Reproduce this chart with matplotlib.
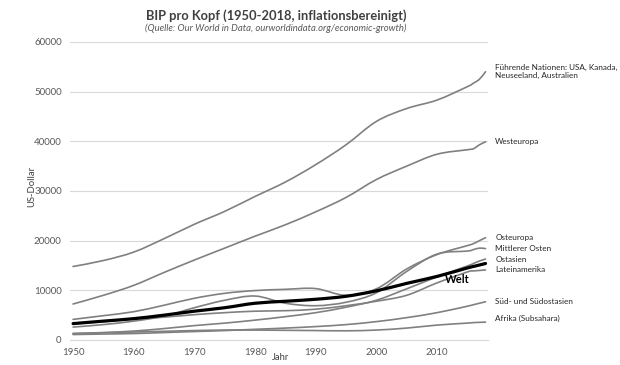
import matplotlib
matplotlib.use('Agg')
import matplotlib.pyplot as plt
from matplotlib.path import Path
from matplotlib.patches import PathPatch

plt.rcParams['font.family'] = ['Lato', 'DejaVu Sans']

# Jahre und Werte (BIP pro Kopf, US-Dollar, inflationsbereinigt)
jahre = [1950, 1955, 1960, 1965, 1970, 1975, 1980, 1985, 1990, 1995,
         2000, 2005, 2010, 2015, 2016, 2017, 2018]

fuehrend = [14800, 16000, 17700, 20400, 23300, 25900, 28900, 31800, 35300, 39300,
            44000, 46600, 48300, 51000, 51700, 52500, 54000]
westeuropa = [7250, 9000, 11000, 13600, 16100, 18500, 20900, 23200, 25800, 28700,
              32300, 35000, 37400, 38300, 38500, 39300, 39900]
osteuropa = [4150, 4900, 5700, 7000, 8400, 9400, 9950, 10200, 10350, 9000,
             10300, 14300, 17200, 19000, 19400, 20000, 20600]
nahost = [2600, 3100, 3800, 4800, 6500, 8000, 8850, 7400, 6900, 7600,
          9500, 13800, 17300, 17900, 18200, 18500, 18400]
ostasien = [1300, 1500, 1800, 2300, 2900, 3400, 4000, 4700, 5500, 6600,
            8000, 10300, 12700, 14900, 15400, 15900, 16300]
lateinamerika = [3300, 3700, 4200, 4600, 5100, 5500, 5800, 5900, 6200, 6900,
                 7800, 9000, 11500, 13700, 13900, 14000, 14100]
suedasien = [1100, 1200, 1300, 1500, 1700, 1900, 2150, 2400, 2700, 3100,
             3700, 4500, 5500, 6800, 7100, 7400, 7700]
afrika = [1300, 1450, 1600, 1750, 1900, 2000, 2000, 1950, 1900, 1850,
          2000, 2400, 3000, 3400, 3500, 3550, 3600]
welt = [3300, 3800, 4300, 5000, 5800, 6500, 7400, 7800, 8200, 8800,
        9900, 11400, 12800, 14500, 14800, 15100, 15400]

regionen = [
    ('Führende Nationen: USA, Kanada,\nNeuseeland, Australien', fuehrend),
    ('Westeuropa', westeuropa),
    ('Osteuropa', osteuropa),
    ('Mittlerer Osten', nahost),
    ('Ostasien', ostasien),
    ('Lateinamerika', lateinamerika),
    ('Süd- und Südostasien', suedasien),
    ('Afrika (Subsahara)', afrika),
]
# vertikale Verschiebung der Beschriftungen (Punkte)
label_dy = [0, 0, 0, 0, 0, 0, 0, 3]


def glatte_linie(ax, x, y, **kw):
    # geglättete Linie wie in Excel (Catmull-Rom als Bezier-Kurve)
    pts = list(zip(x, y))
    n = len(pts)
    verts = [pts[0]]
    codes = [Path.MOVETO]
    for i in range(n - 1):
        p0 = pts[max(i - 1, 0)]
        p1 = pts[i]
        p2 = pts[i + 1]
        p3 = pts[min(i + 2, n - 1)]
        c1 = (p1[0] + (p2[0] - p0[0]) / 6, p1[1] + (p2[1] - p0[1]) / 6)
        c2 = (p2[0] - (p3[0] - p1[0]) / 6, p2[1] - (p3[1] - p1[1]) / 6)
        verts += [c1, c2, p2]
        codes += [Path.CURVE4] * 3
    ax.add_patch(PathPatch(Path(verts, codes), fill=False, **kw))


fig = plt.figure(figsize=(6.2, 3.65), dpi=100)
ax = fig.add_axes([0.113, 0.0685, 0.674, 0.8165])

grau = '#808080'
for (name, werte), dy in zip(regionen, label_dy):
    glatte_linie(ax, jahre, werte, edgecolor=grau, linewidth=1.2, capstyle='round')
    ax.annotate(name, xy=(jahre[-1], werte[-1]), xytext=(7, dy),
                textcoords='offset points', va='center', ha='left',
                fontsize=5.9, color='#262626', annotation_clip=False)

glatte_linie(ax, jahre, welt, edgecolor='black', linewidth=2.3, capstyle='round')
ax.text(2013.3, 12100, 'Welt', fontsize=8, fontweight='bold',
        ha='center', va='center', color='black')

ax.set_xlim(1949.5, 2018.4)
ax.set_ylim(0, 60000)
ax.set_xticks(range(1950, 2011, 10))
ax.set_yticks(range(0, 60001, 10000))
ax.tick_params(length=0, labelsize=7, colors='#595959', pad=6)
ax.grid(axis='y', color='#d9d9d9', linewidth=0.8)
ax.set_axisbelow(True)
for s in ['top', 'right', 'left']:
    ax.spines[s].set_visible(False)
ax.spines['bottom'].set_color('#d9d9d9')
ax.spines['bottom'].set_linewidth(0.8)

fig.text(0.445, 0.958, 'BIP pro Kopf (1950-2018, inflationsbereinigt)',
         ha='center', va='center', fontsize=9.3, fontweight='bold', color='#404040')
fig.text(0.445, 0.922, '(Quelle: Our World in Data, ourworldindata.org/economic-growth)',
         ha='center', va='center', fontsize=6.8, style='italic', color='#595959')
fig.text(0.452, 0.02, 'Jahr', ha='center', va='center', fontsize=6.8, color='#404040')
fig.text(0.052, 0.49, 'US-Dollar', ha='center', va='center', rotation=90,
         fontsize=6.8, color='#404040')

fig.savefig('out.png', dpi=100)
